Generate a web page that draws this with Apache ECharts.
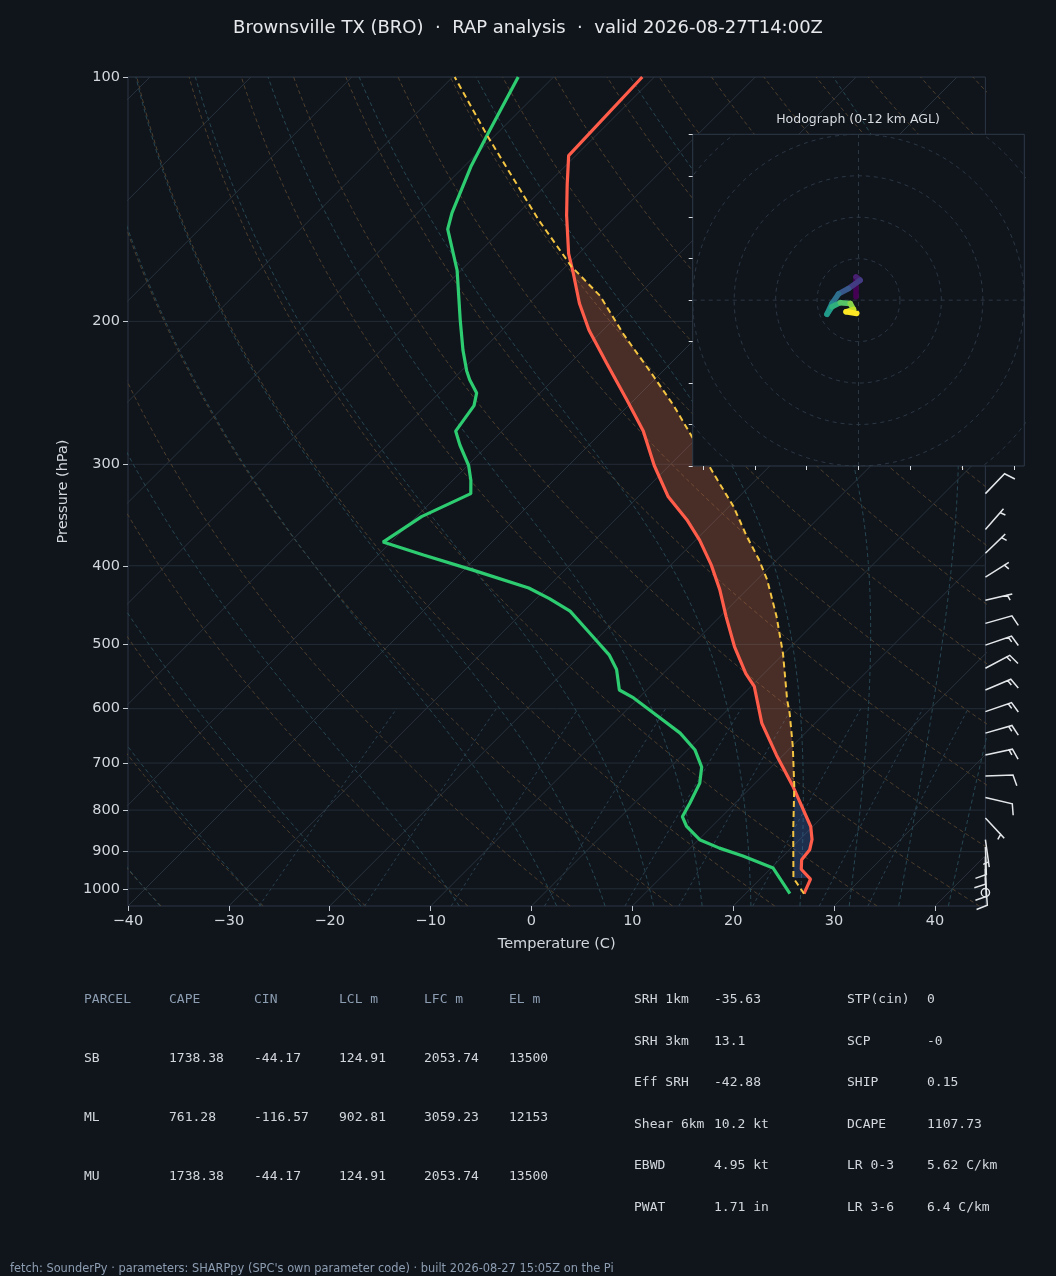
<!DOCTYPE html>
<html>
<head>
<meta charset="utf-8">
<script src="https://cdn.jsdelivr.net/npm/echarts@6/dist/echarts.min.js"></script>
<style>
html,body{margin:0;padding:0;background:#10151c;}
#chart{width:1056px;height:1276px;}
</style>
</head>
<body>
<div id="chart"></div>
<script>
// ================= DATA =================
// Environmental temperature profile (hPa, degC)
const envPressure = [1014, 973, 946, 921, 895, 869, 838, 747, 684, 625, 563, 543, 503, 462, 428, 399, 372, 351, 329, 301, 273, 250, 225, 205, 190, 174, 165, 148, 136, 125, 100];
const envTemp     = [25.8, 25.0, 23.1, 22.2, 22.0, 21.2, 19.8, 14.0, 9.3, 4.7, 0.3, -1.8, -5.6, -9.4, -12.7, -16.0, -19.6, -22.9, -27.0, -31.5, -36.0, -40.7, -46.4, -51.4, -55.0, -58.7, -61.0, -65.0, -67.9, -70.7, -71.2];

// Dewpoint profile (hPa, degC)
const dewPressure = [1014, 943, 911, 891, 870, 838, 815, 784, 741, 708, 674, 643, 615, 582, 569, 537, 515, 484, 455, 439, 426, 405, 388, 374, 348, 326, 314, 301, 284, 273, 254, 245, 236, 230, 217, 199, 173, 154, 147, 129, 118, 100];
const dewTemp     = [24.4, 20.2, 16.0, 12.9, 10.1, 7.5, 6.1, 5.5, 4.5, 3.1, 0.7, -2.4, -6.0, -10.5, -12.7, -15.0, -17.2, -21.3, -25.4, -28.7, -31.8, -39.1, -45.5, -50.8, -49.5, -46.9, -48.2, -49.9, -52.8, -54.6, -55.3, -56.3, -58.3, -59.5, -61.9, -65.2, -70.4, -75.4, -76.6, -79.3, -80.8, -83.5];

// Surface-based parcel path (hPa, degC)
const parcelPressure = [1014, 970, 846, 748, 668, 608, 585, 513, 462, 416, 393, 368, 338, 317, 302, 254, 231, 208, 186, 171, 150, 143, 118, 100];
const parcelTemp     = [25.8, 23.2, 18.4, 14.2, 10.1, 6.5, 4.9, -0.1, -4.4, -9.0, -11.8, -15.3, -19.6, -23.2, -25.9, -35.5, -41.1, -47.4, -53.7, -59.5, -67.3, -70.0, -80.8, -89.8];

// Shaded layers (bottom, top pressure in hPa)
const capeLayer = [747, 172];
const cinLayer  = [970, 747];

// Wind barbs at the right edge (hPa, direction deg, speed kt)
const barbPressure  = [326, 361, 386, 413, 441, 471, 501, 535, 569, 605, 643, 684, 726, 772, 818, 870, 888, 913, 945, 969, 1011];
const barbDirection = [44, 41, 46, 58, 77, 74, 71, 62, 67, 71, 74, 78, 88, 103, 137, 172, 178, 180, 178, 176, 0];
const barbSpeed     = [10, 5, 5, 5, 5, 10, 15, 15, 15, 15, 15, 15, 10, 10, 5, 5, 10, 10, 10, 10, 0];

// Hodograph (u, v) from low to high levels
const hodoU = [-0.6, -0.6, 0.4, -2.4, -4.8, -6.4, -7.6, -6.4, -4.4, -2.0, -1.2, -3.0, -0.4];
const hodoV = [0.8, 5.6, 4.8, 2.8, 1.5, -0.8, -3.4, -1.6, -0.6, -0.8, -2.2, -2.8, -3.2];

// Axis ticks
const pressureTicks = [100, 200, 300, 400, 500, 600, 700, 800, 900, 1000];
const tempTicks = [-40, -30, -20, -10, 0, 10, 20, 30, 40];
const hodoRings = [10, 20, 30, 40, 50];
const hodoXTicks = [-37.5, -25, -12.5, 0, 12.5, 25, 37.5];
const hodoYTicks = [-40, -30, -20, -10, 0, 10, 20, 30, 40];

// Reference-line families of the thermodynamic diagram
const isothermValues = [-130, -120, -110, -100, -90, -80, -70, -60, -50, -40, -30, -20, -10, 0, 10, 20, 30, 40];
const dryAdiabatStarts = [-40, -30, -20, -10, 0, 10, 20, 30, 40, 50, 60, 70, 80, 90, 100, 110, 120, 130, 140, 150, 160, 170, 180, 190, 200];
const moistAdiabatStarts = [-40, -30, -20, -10, 0, 5, 10, 15, 20, 25, 30, 35, 40, 45, 50, 55, 60];
const mixingRatios = [0.0004, 0.001, 0.002, 0.004, 0.007, 0.01, 0.016, 0.024, 0.032];

// Text
const titleText = 'Brownsville TX (BRO)  \u00b7  RAP analysis  \u00b7  valid 2026-08-27T14:00Z';
const parcelHeader = ['PARCEL', 'CAPE', 'CIN', 'LCL m', 'LFC m', 'EL m'];
const parcelRows = [
  ['SB', '1738.38', '-44.17', '124.91', '2053.74', '13500'],
  ['ML', '761.28', '-116.57', '902.81', '3059.23', '12153'],
  ['MU', '1738.38', '-44.17', '124.91', '2053.74', '13500']
];
const paramLeftNames  = ['SRH 1km', 'SRH 3km', 'Eff SRH', 'Shear 6km', 'EBWD', 'PWAT'];
const paramLeftValues = ['-35.63', '13.1', '-42.88', '10.2 kt', '4.95 kt', '1.71 in'];
const paramRightNames  = ['STP(cin)', 'SCP', 'SHIP', 'DCAPE', 'LR 0-3', 'LR 3-6'];
const paramRightValues = ['0', '-0', '0.15', '1107.73', '5.62 C/km', '6.4 C/km'];
const footerText = "fetch: SounderPy \u00b7 parameters: SHARPpy (SPC's own parameter code) \u00b7 built 2026-08-27 15:05Z on the Pi";

// ================= LAYOUT / STYLE =================
const BG = '#10151c';
const P_TOP = 100, P_BOTTOM = 1050, T_MIN = -40, T_MAX = 45;
const GRID = {left: 128, top: 77, width: 857.4, height: 829};
const HODO = {left: 692.7, top: 134.3, width: 331.6, height: 331.7};
// skew so that isotherms run at 45 degrees on screen
const K_SKEW = (GRID.height / Math.log(P_BOTTOM / P_TOP)) / (GRID.width / (T_MAX - T_MIN));
const skewX = (T, p) => T + K_SKEW * Math.log(P_BOTTOM / p);

const C = {
  frame: '#2d3745', isobar: '#232c36', isotherm: '#29333d', dry: '#4e3f2d', moist: '#274752', mixing: '#2a4150',
  temp: '#ff5c4a', dew: '#2ecc71', parcel: '#f4c542', text: '#d3d7dd', header: '#8d9db1', barb: '#e4e7ea'
};

// ================= THERMO HELPERS =================
function satVap(Tk) { const tc = Tk - 273.15; return 6.112 * Math.exp(17.67 * tc / (tc + 243.5)); }
function moistGrad(p, T) {
  const es = satVap(T);
  const rs = 0.622 * es / Math.max(p - es, 1e-3);
  return (287.04 * T + 2.501e6 * rs) / (1005.7 + 2.501e6 * 2.501e6 * rs * 0.622 / (287.04 * T * T)) / p;
}
function rk4(p0, T0, p1, n) {
  let T = T0, p = p0; const h = (p1 - p0) / n;
  for (let i = 0; i < n; i++) {
    const k1 = moistGrad(p, T), k2 = moistGrad(p + h / 2, T + h * k1 / 2), k3 = moistGrad(p + h / 2, T + h * k2 / 2), k4 = moistGrad(p + h, T + h * k3);
    T += h * (k1 + 2 * k2 + 2 * k3 + k4) / 6; p += h;
  }
  return T;
}
const samplePressures = [];
for (let i = 0; i <= 70; i++) samplePressures.push(P_BOTTOM * Math.pow(P_TOP / P_BOTTOM, i / 70));

function interpT(P, T, p) {
  const lp = Math.log(p);
  for (let i = 0; i < P.length - 1; i++) {
    const a = Math.log(P[i]), b = Math.log(P[i + 1]);
    if (lp <= a && lp >= b) { const f = (lp - a) / (b - a); return T[i] + f * (T[i + 1] - T[i]); }
  }
  return NaN;
}

// ================= SERIES =================
const series = [];
function addLine(points, color, width, type, z, grid) {
  series.push({
    type: 'line', xAxisIndex: grid || 0, yAxisIndex: grid || 0, data: points, showSymbol: false, symbol: 'none',
    silent: true, animation: false, clip: true, z: z, zlevel: grid ? 1 : 0,
    lineStyle: {color: color, width: width, type: type}
  });
}

// isobars
pressureTicks.forEach(p => addLine([[T_MIN, p], [T_MAX, p]], C.isobar, 1, 'solid', 1));
// isotherms
isothermValues.forEach(t => addLine([[skewX(t, P_BOTTOM), P_BOTTOM], [skewX(t, P_TOP), P_TOP]], C.isotherm, 1, 'solid', 1));
// dry adiabats
dryAdiabatStarts.forEach(t0 => {
  addLine(samplePressures.map(p => [skewX((t0 + 273.15) * Math.pow(p / 1000, 0.2857) - 273.15, p), p]), C.dry, 1, [4, 3], 1);
});
// moist adiabats
moistAdiabatStarts.forEach(t0 => {
  let T = rk4(1000, t0 + 273.15, P_BOTTOM, 10);
  let prev = P_BOTTOM; const pts = [];
  samplePressures.forEach(p => { if (p !== prev) T = rk4(prev, T, p, 4); prev = p; pts.push([skewX(T - 273.15, p), p]); });
  addLine(pts, C.moist, 1, [4, 3], 1);
});
// mixing ratio lines
mixingRatios.forEach(w => {
  const pts = [];
  for (let i = 0; i <= 10; i++) {
    const p = P_BOTTOM + (600 - P_BOTTOM) * i / 10;
    const e = p * w / (0.622 + w);
    const l = Math.log(e / 6.112);
    pts.push([skewX(243.5 * l / (17.67 - l), p), p]);
  }
  addLine(pts, C.mixing, 1, [3, 3], 1);
});

// CAPE / CIN shading
function layerPolygon(layer, mode) {
  const [pb, pt] = layer;
  let ps = [pb, pt];
  envPressure.concat(parcelPressure).forEach(p => { if (p < pb && p > pt) ps.push(p); });
  for (let i = 1; i < 60; i++) ps.push(pb * Math.pow(pt / pb, i / 60));
  ps = Array.from(new Set(ps)).sort((a, b) => b - a);
  const side = [], env = [];
  ps.forEach(p => {
    const te = interpT(envPressure, envTemp, p), tp = interpT(parcelPressure, parcelTemp, p);
    const v = mode === 'cape' ? Math.max(te, tp) : Math.min(te, tp);
    side.push([skewX(v, p), p]); env.push([skewX(te, p), p]);
  });
  return side.concat(env.reverse());
}
const fillPolys = [layerPolygon(capeLayer, 'cape'), layerPolygon(cinLayer, 'cin')];
const fillColors = ['rgba(205,105,70,0.30)', 'rgba(65,115,200,0.28)'];
series.push({
  type: 'custom', xAxisIndex: 0, yAxisIndex: 0, z: 2, silent: true, animation: false,
  data: fillPolys.map((poly, i) => [poly[0][0], poly[0][1], i]),
  renderItem: (params, api) => {
    const i = params.dataIndex;
    return {type: 'polygon', shape: {points: fillPolys[i].map(pt => api.coord(pt))}, style: {fill: fillColors[i], stroke: null}};
  }
});

// profiles
const toSkew = (P, T) => P.map((p, i) => [skewX(T[i], p), p]);
addLine(toSkew(dewPressure, dewTemp), C.dew, 3.2, 'solid', 3);
addLine(toSkew(envPressure, envTemp), C.temp, 3.2, 'solid', 3);
addLine(toSkew(parcelPressure, parcelTemp), C.parcel, 2, [6, 4], 4);

// wind barbs
const BARB_LEN = 27.6;
series.push({
  type: 'custom', xAxisIndex: 0, yAxisIndex: 0, z: 5, silent: true, animation: false, clip: false,
  data: barbPressure.map((p, i) => [T_MAX, p, barbDirection[i], barbSpeed[i]]),
  renderItem: (params, api) => {
    const base = api.coord([api.value(0), api.value(1)]);
    const dir = api.value(2), spd = api.value(3), L = BARB_LEN;
    if (spd < 2.5) {
      return {type: 'circle', shape: {cx: base[0], cy: base[1], r: 0.15 * L}, style: {fill: null, stroke: C.barb, lineWidth: 1.4}};
    }
    const th = dir * Math.PI / 180;
    const d = [Math.sin(th), -Math.cos(th)], pp = [Math.cos(th), Math.sin(th)];
    const P = (x, y) => [base[0] + d[0] * y + pp[0] * x, base[1] + d[1] * y + pp[1] * x];
    const s5 = Math.round(spd / 5) * 5;
    const nbarb = Math.floor((s5 % 50) / 10), half = (s5 % 10) >= 5;
    const spacing = 0.125 * L, fh = 0.4 * L, fw = 0.25 * L;
    const verts = [[0, 0]]; let off = L;
    for (let i = 0; i < nbarb; i++) { verts.push([0, off], [fh, off + fw / 2], [0, off]); off -= spacing; }
    if (half) {
      if (off === L) { verts.push([0, off]); off -= 1.5 * spacing; }
      verts.push([0, off], [fh / 2, off + fw / 4], [0, off]);
    }
    verts.push([0, 0]);
    return {type: 'polyline', shape: {points: verts.map(v => P(v[0], v[1]))}, style: {stroke: C.barb, fill: null, lineWidth: 1.5}};
  }
});

// ---- hodograph ----
hodoRings.forEach(r => {
  const pts = [];
  for (let i = 0; i <= 120; i++) { const a = i / 120 * 2 * Math.PI; pts.push([r * Math.cos(a), r * Math.sin(a)]); }
  addLine(pts, '#2c3744', 1, [4, 4], 2, 1);
});
addLine([[-40, 0], [40, 0]], '#2c3744', 1, [4, 4], 2, 1);
addLine([[0, -40], [0, 40]], '#2c3744', 1, [4, 4], 2, 1);

const viridis = ['#440154', '#482878', '#3e4989', '#31688e', '#26828e', '#1f9e89', '#35b779', '#6ece58', '#b5de2b', '#fde725'];
function viridisAt(f) {
  const x = Math.max(0, Math.min(1, f)) * (viridis.length - 1);
  const i = Math.min(Math.floor(x), viridis.length - 2), t = x - i;
  const h = s => [parseInt(s.slice(1, 3), 16), parseInt(s.slice(3, 5), 16), parseInt(s.slice(5, 7), 16)];
  const a = h(viridis[i]), b = h(viridis[i + 1]);
  return 'rgb(' + a.map((v, k) => Math.round(v + (b[k] - v) * t)).join(',') + ')';
}
const hodoSegs = [];
for (let i = 0; i < hodoU.length - 1; i++) hodoSegs.push([hodoU[i], hodoV[i], hodoU[i + 1], hodoV[i + 1], i / (hodoU.length - 2)]);
series.push({
  type: 'custom', xAxisIndex: 1, yAxisIndex: 1, zlevel: 1, z: 5, silent: true, animation: false,
  encode: {x: [0, 2], y: [1, 3]},
  data: hodoSegs,
  renderItem: (params, api) => {
    const a = api.coord([api.value(0), api.value(1)]), b = api.coord([api.value(2), api.value(3)]);
    return {type: 'line', shape: {x1: a[0], y1: a[1], x2: b[0], y2: b[1]}, style: {stroke: viridisAt(api.value(4)), lineWidth: 5.5, lineCap: 'round'}};
  }
});

// ================= TEXT GRAPHICS =================
const graphics = [];
const txt = (x, y, text, opts) => graphics.push(Object.assign({
  type: 'text', x: x, y: y, z: 100, silent: true,
  style: Object.assign({text: text, fill: C.text, fontSize: 13, fontFamily: 'DejaVu Sans Mono', align: 'left', verticalAlign: 'middle'}, (opts || {}))
}));
txt(528, 28, titleText, {fontFamily: 'DejaVu Sans', fontSize: 18, align: 'center', fill: '#e6e8eb'});
txt(858, 120, 'Hodograph (0-12 km AGL)', {fontFamily: 'DejaVu Sans', fontSize: 12.5, align: 'center', fill: '#d8dce0'});
const colX = [84, 169, 254, 339, 424, 509];
parcelHeader.forEach((h, i) => txt(colX[i], 1000, h, {fill: C.header}));
parcelRows.forEach((row, r) => row.forEach((v, i) => txt(colX[i], 1058.5 + r * 59, v)));
const rowY = [1000, 1041.5, 1083, 1124.5, 1166, 1207.5];
paramLeftNames.forEach((n, i) => { txt(634, rowY[i], n); txt(714, rowY[i], paramLeftValues[i]); });
paramRightNames.forEach((n, i) => { txt(847, rowY[i], n); txt(927, rowY[i], paramRightValues[i]); });
txt(10, 1269, footerText, {fontFamily: 'DejaVu Sans', fontSize: 11.4, fill: C.header});

// ================= OPTION =================
const axisLabelStyle = {color: C.text, fontSize: 14.5, fontFamily: 'DejaVu Sans'};
const option = {
  backgroundColor: BG,
  animation: false,
  textStyle: {fontFamily: 'DejaVu Sans'},
  grid: [
    Object.assign({show: true, borderColor: C.frame, borderWidth: 1, backgroundColor: 'transparent', containLabel: false}, GRID),
    Object.assign({show: true, borderColor: '#2f3a48', borderWidth: 1, backgroundColor: BG, containLabel: false, zlevel: 1}, HODO)
  ],
  xAxis: [
    {
      type: 'value', gridIndex: 0, min: T_MIN, max: T_MAX, interval: 10, position: 'bottom',
      axisLine: {show: false, onZero: false},
      axisTick: {show: true, length: 5, lineStyle: {color: '#c4cad2'}, customValues: tempTicks},
      axisLabel: Object.assign({margin: 8, customValues: tempTicks, formatter: v => String(v).replace('-', '\u2212')}, axisLabelStyle),
      splitLine: {show: false},
      name: 'Temperature (C)', nameLocation: 'middle', nameGap: 31,
      nameTextStyle: {color: C.text, fontSize: 14.5, fontFamily: 'DejaVu Sans'}
    },
    {
      type: 'value', gridIndex: 1, min: -40, max: 40, zlevel: 1, position: 'bottom',
      axisLine: {show: false, onZero: false},
      axisTick: {show: true, length: 4, lineStyle: {color: '#d8dce0'}, customValues: hodoXTicks},
      axisLabel: {show: false}, splitLine: {show: false}
    }
  ],
  yAxis: [
    {
      type: 'log', logBase: 10, gridIndex: 0, min: P_TOP, max: P_BOTTOM, inverse: true, position: 'left',
      axisLine: {show: false, onZero: false},
      axisTick: {show: true, length: 5, lineStyle: {color: '#c4cad2'}, customValues: pressureTicks},
      axisLabel: Object.assign({margin: 8, customValues: pressureTicks, formatter: v => String(Math.round(v))}, axisLabelStyle),
      splitLine: {show: false},
      name: 'Pressure (hPa)', nameLocation: 'middle', nameGap: 57, nameRotate: 90,
      nameTextStyle: {color: C.text, fontSize: 14.5, fontFamily: 'DejaVu Sans'}
    },
    {
      type: 'value', gridIndex: 1, min: -40, max: 40, interval: 10, zlevel: 1, position: 'left',
      axisLine: {show: false, onZero: false},
      axisTick: {show: true, length: 4, lineStyle: {color: '#d8dce0'}, customValues: hodoYTicks},
      axisLabel: {show: false}, splitLine: {show: false}
    }
  ],
  series: series,
  graphic: {elements: graphics}
};

const chart = echarts.init(document.getElementById('chart'), null, {renderer: 'canvas', width: 1056, height: 1276});
chart.setOption(option);
</script>
</body>
</html>
